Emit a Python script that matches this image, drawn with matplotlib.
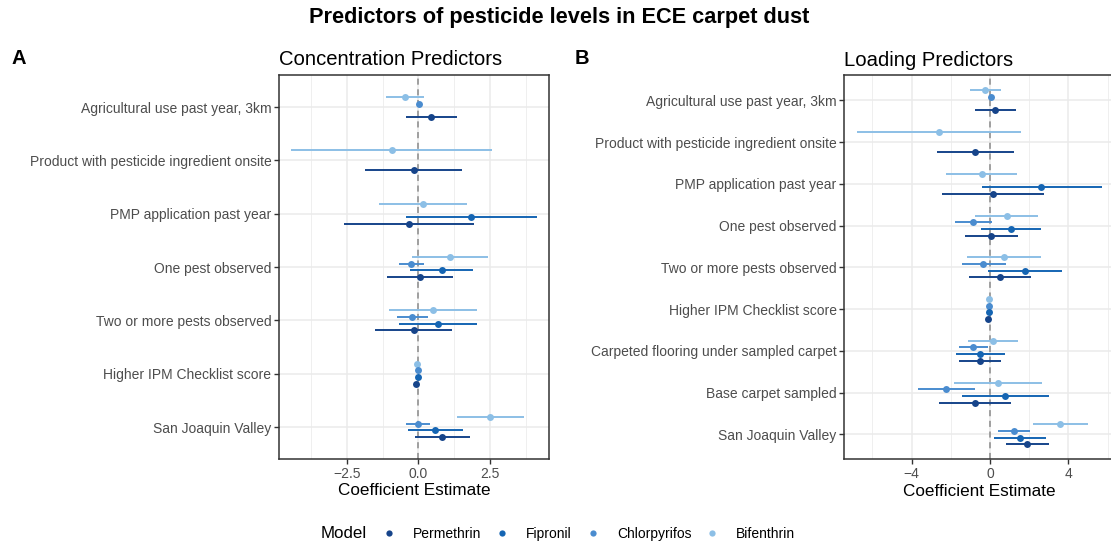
import numpy as np
import matplotlib
matplotlib.use("Agg")
import matplotlib.pyplot as plt
from matplotlib.lines import Line2D

plt.rcParams['font.family'] = ['Liberation Sans', 'DejaVu Sans']

models = ["Permethrin", "Fipronil", "Chlorpyrifos", "Bifenthrin"]
colors = {"Permethrin": "#16448a", "Fipronil": "#1565b3",
          "Chlorpyrifos": "#4a8ccf", "Bifenthrin": "#8cbfe6"}
nan = np.nan

# ---------------- Panel A: concentration ----------------
cats_a = ["Agricultural use past year, 3km", "Product with pesticide ingredient onsite",
          "PMP application past year", "One pest observed", "Two or more pests observed",
          "Higher IPM Checklist score", "San Joaquin Valley"]
est_a = {
    "Bifenthrin":   [-0.48, -0.94, 0.15, 1.10, 0.50, -0.04, 2.51],
    "Chlorpyrifos": [0.01, nan, nan, -0.25, -0.21, -0.01, 0.00],
    "Fipronil":     [nan, nan, 1.84, 0.81, 0.69, -0.01, 0.58],
    "Permethrin":   [0.44, -0.16, -0.33, 0.05, -0.16, -0.07, 0.83],
}
lo_a = {
    "Bifenthrin":   [-1.15, -4.44, -1.38, -0.21, -1.03, -0.06, 1.35],
    "Chlorpyrifos": [-0.02, nan, nan, -0.69, -0.76, -0.03, -0.43],
    "Fipronil":     [nan, nan, -0.43, -0.29, -0.69, -0.03, -0.37],
    "Permethrin":   [-0.45, -1.86, -2.61, -1.10, -1.50, -0.09, -0.13],
}
hi_a = {
    "Bifenthrin":   [0.21, 2.56, 1.69, 2.43, 2.04, -0.02, 3.69],
    "Chlorpyrifos": [0.04, nan, nan, 0.21, 0.35, 0.01, 0.42],
    "Fipronil":     [nan, nan, 4.13, 1.90, 2.05, 0.01, 1.56],
    "Permethrin":   [1.35, 1.52, 1.93, 1.19, 1.17, -0.05, 1.79],
}

# ---------------- Panel B: loading ----------------
cats_b = ["Agricultural use past year, 3km", "Product with pesticide ingredient onsite",
          "PMP application past year", "One pest observed", "Two or more pests observed",
          "Higher IPM Checklist score", "Carpeted flooring under sampled carpet",
          "Base carpet sampled", "San Joaquin Valley"]
est_b = {
    "Bifenthrin":   [-0.24, -2.62, -0.43, 0.85, 0.73, -0.03, 0.14, 0.43, 3.57],
    "Chlorpyrifos": [0.05, nan, nan, -0.85, -0.34, -0.07, -0.85, -2.23, 1.21],
    "Fipronil":     [nan, nan, 2.62, 1.05, 1.77, -0.03, -0.49, 0.78, 1.53],
    "Permethrin":   [0.27, -0.77, 0.14, 0.05, 0.51, -0.08, -0.51, -0.78, 1.89],
}
lo_b = {
    "Bifenthrin":   [-1.04, -6.80, -2.23, -0.78, -1.16, -0.06, -1.14, -1.82, 2.18],
    "Chlorpyrifos": [0.00, nan, nan, -1.77, -1.45, -0.10, -1.60, -3.67, 0.41],
    "Fipronil":     [nan, nan, -0.41, -0.48, -0.12, -0.06, -1.73, -1.41, 0.22],
    "Permethrin":   [-0.77, -2.70, -2.47, -1.29, -1.05, -0.11, -1.56, -2.62, 0.80],
}
hi_b = {
    "Bifenthrin":   [0.58, 1.56, 1.39, 2.47, 2.62, 0.00, 1.41, 2.64, 4.98],
    "Chlorpyrifos": [0.10, nan, nan, 0.10, 0.80, -0.04, -0.08, -0.78, 2.02],
    "Fipronil":     [nan, nan, 5.70, 2.59, 3.67, 0.00, 0.75, 3.01, 2.84],
    "Permethrin":   [1.31, 1.21, 2.76, 1.41, 2.07, -0.05, 0.54, 1.05, 3.01],
}

W, H = 1111, 545
fig = plt.figure(figsize=(W / 100, H / 100), dpi=100)

def px_ax(l, t, r, b):
    return fig.add_axes([l / W, 1 - b / H, (r - l) / W, (b - t) / H])

draw_order = ["Bifenthrin", "Chlorpyrifos", "Fipronil", "Permethrin"]

def panel(ax, cats, est, lo, hi, step, xlim, major, minor, ticklabels):
    n = len(cats)
    ax.set_facecolor("white")
    ax.set_xlim(*xlim)
    ax.set_ylim(n - 0.4, -0.6)
    ax.set_xticks(major)
    ax.set_xticklabels(ticklabels)
    ax.set_xticks(minor, minor=True)
    ax.set_yticks(range(n))
    ax.set_yticklabels(cats)
    ax.grid(True, which="major", color="#ebebeb", lw=1.1, zorder=0)
    ax.grid(True, which="minor", axis="x", color="#ebebeb", lw=0.55, zorder=0)
    ax.set_axisbelow(True)
    ax.axvline(0, color="#8a8a8a", ls=(0, (4, 3)), lw=1.1, zorder=1)
    for k, m in enumerate(draw_order):
        off = (k - 1.5) * step
        y = np.arange(n) + off
        e = np.array(est[m]); l = np.array(lo[m]); h = np.array(hi[m])
        ok = ~np.isnan(e)
        ax.hlines(y[ok], l[ok], h[ok], color=colors[m], lw=1.4, zorder=2)
        ax.plot(e[ok], y[ok], "o", color=colors[m], ms=5.0, mec="none", zorder=3)
    for s in ax.spines.values():
        s.set_color("#333333")
        s.set_linewidth(1.1)
    ax.tick_params(axis="both", which="major", color="#333333", length=3.5, width=1,
                   labelcolor="#4d4d4d", labelsize=10, pad=2)
    ax.tick_params(axis="x", which="minor", length=0)
    ax.set_xlabel("Coefficient Estimate", fontsize=12.3, color="black", labelpad=2)

axA = px_ax(279, 75, 549, 459)
panel(axA, cats_a, est_a, lo_a, hi_a, 0.125, (-4.87, 4.56),
      [-2.5, 0, 2.5], [-3.75, -1.25, 1.25, 3.75], ["\u22122.5", "0.0", "2.5"])
axB = px_ax(844.3, 75.3, 1114, 459.3)
panel(axB, cats_b, est_b, lo_b, hi_b, 0.16, (-7.43, 6.33),
      [-4, 0, 4], [-6, -2, 2, 6], ["\u22124", "0", "4"])

axA.set_title("Concentration Predictors", loc="left", fontsize=14.6, pad=7)
axB.set_title("Loading Predictors", loc="left", fontsize=14.6, pad=7)

fig.text(559 / W, 1 - 18 / H, "Predictors of pesticide levels in ECE carpet dust",
         ha="center", va="center", fontsize=15.7, fontweight="bold")
fig.text(11 / W, 1 - 58 / H, "A", ha="left", va="center", fontsize=14.5, fontweight="bold")
fig.text(575 / W, 1 - 58 / H, "B", ha="left", va="center", fontsize=14.5, fontweight="bold")

# legend
handles = [Line2D([], [], marker="o", ls="none", color=colors[m], ms=4.5, mec="none")
           for m in models]
fig.text(321 / W, 1 - 534 / H, "Model", ha="left", va="center", fontsize=12.2)
fig.legend(handles, models, loc="center left", bbox_to_anchor=(382 / W, 1 - 534 / H),
           ncol=4, frameon=False, fontsize=10, handlelength=1.0, handletextpad=1.25,
           columnspacing=0.97, borderpad=0, borderaxespad=0)

fig.savefig("out.png", dpi=100)
